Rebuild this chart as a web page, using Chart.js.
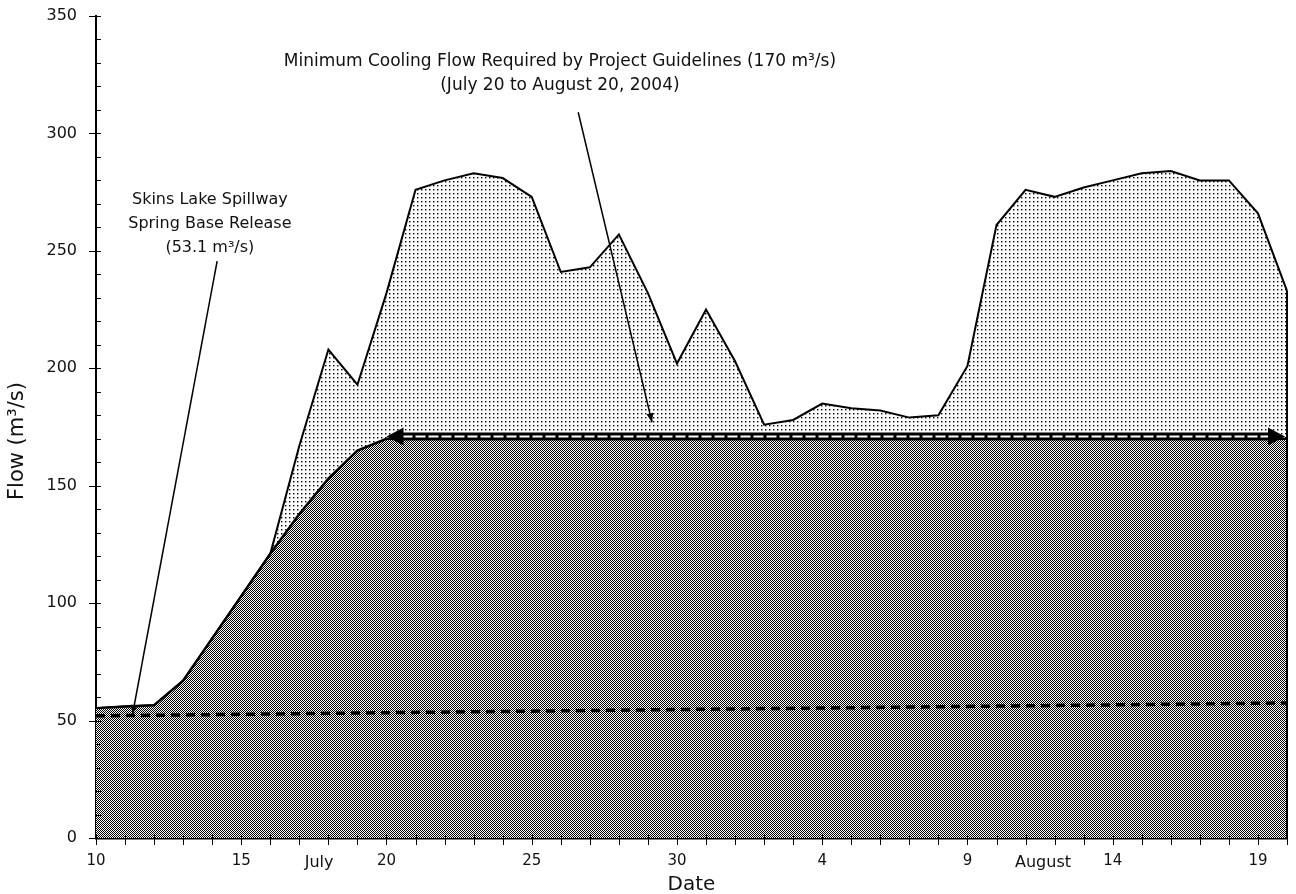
<!DOCTYPE html>
<html>
<head>
<meta charset="utf-8">
<script src="https://cdn.jsdelivr.net/npm/chart.js@4.4.1/dist/chart.umd.min.js"></script>
<style>
html, body { margin: 0; padding: 0; background: #fff; }
</style>
</head>
<body>
<canvas id="flowChart" width="1296" height="894"></canvas>
<script>
// daily dates, July 10 to August 20, 2004
const dates = [
    'Jul 10', 'Jul 11', 'Jul 12', 'Jul 13', 'Jul 14', 'Jul 15', 'Jul 16', 'Jul 17', 'Jul 18', 'Jul 19',
    'Jul 20', 'Jul 21', 'Jul 22', 'Jul 23', 'Jul 24', 'Jul 25', 'Jul 26', 'Jul 27', 'Jul 28', 'Jul 29',
    'Jul 30', 'Jul 31', 'Aug 1', 'Aug 2', 'Aug 3', 'Aug 4', 'Aug 5', 'Aug 6', 'Aug 7', 'Aug 8',
    'Aug 9', 'Aug 10', 'Aug 11', 'Aug 12', 'Aug 13', 'Aug 14', 'Aug 15', 'Aug 16', 'Aug 17', 'Aug 18',
    'Aug 19', 'Aug 20'
];

// total flow (upper line, dotted area)
const totalFlow = [
    55.3, 56.0, 56.5, 67, 85, 103, 121, 167, 208, 193,
    232, 276, 280, 283, 281, 273, 241, 243, 257, 232,
    202, 225, 203, 176, 178, 185, 183, 182, 179, 180,
    201, 261, 276, 273, 277, 280, 283, 284, 280, 280,
    266, 233
];

// cooling flow release (lower line, dark area)
const releaseFlow = [
    55.3, 56.0, 56.5, 67, 85, 103, 121, 138, 153, 165,
    170, 170, 170, 170, 170, 170, 170, 170, 170, 170,
    170, 170, 170, 170, 170, 170, 170, 170, 170, 170,
    170, 170, 170, 170, 170, 170, 170, 170, 170, 170,
    170, 170
];

// Skins Lake spillway base release (dashed line)
const baseDates = ['Jul 10', 'Aug 20'];
const baseRelease = [52.0, 57.5];

// minimum cooling flow guideline arrow
const minFlowDates = ['Jul 20', 'Aug 20'];
const minFlowLevel = 171;

const yMax = 350;
const FONT = '"DejaVu Sans", sans-serif';
const INK = '#111';

const canvas = document.getElementById('flowChart');
const ctx = canvas.getContext('2d');

function makePattern(size, dots) {
    const c = document.createElement('canvas');
    c.width = size; c.height = size;
    const g = c.getContext('2d');
    g.fillStyle = '#fff';
    g.fillRect(0, 0, size, size);
    dots.forEach(d => { g.fillStyle = d[2]; g.fillRect(d[0], d[1], 1, 1); });
    return ctx.createPattern(c, 'repeat');
}
const checker = makePattern(2, [[0, 0, '#000'], [1, 1, '#000']]);
const dotted = makePattern(4, [[1, 1, '#000'], [2, 1, '#999'], [1, 2, '#999'], [2, 2, '#ccc']]);

function arrowHead(c, x1, y1, x2, y2, len, half) {
    const a = Math.atan2(y2 - y1, x2 - x1);
    const bx = x2 - len * Math.cos(a), by = y2 - len * Math.sin(a);
    c.beginPath();
    c.moveTo(x2, y2);
    c.lineTo(bx + half * Math.sin(a), by - half * Math.cos(a));
    c.lineTo(bx - half * Math.sin(a), by + half * Math.cos(a));
    c.closePath();
    c.fill();
}

// notes placed in data units (day index, flow)
const notes = [
    { lines: ['Minimum Cooling Flow Required by Project Guidelines (170 m\u00b3/s)', '(July 20 to August 20, 2004)'],
      size: 17, at: [15.97, 330.4], from: [16.6, 309], to: [19.14, 177] },
    { lines: ['Skins Lake Spillway', 'Spring Base Release', '(53.1 m\u00b3/s)'],
      size: 16, at: [3.92, 271.6], from: [4.17, 245.6], to: [1.26, 52.8] }
];

const decorations = {
    id: 'decorations',
    afterDatasetsDraw(chart) {
        const c = chart.ctx, x = chart.scales.x, y = chart.scales.y;
        c.save();
        // right edge of the filled area
        const last = dates.length - 1;
        c.strokeStyle = '#000';
        c.lineWidth = 2;
        c.beginPath();
        c.moveTo(x.getPixelForValue(last), y.getPixelForValue(totalFlow[last]));
        c.lineTo(x.getPixelForValue(last), y.getPixelForValue(0));
        c.stroke();

        // guideline double arrow
        const xa = x.getPixelForValue(dates.indexOf(minFlowDates[0]));
        const xb = x.getPixelForValue(dates.indexOf(minFlowDates[1])) - 2;
        const ya = y.getPixelForValue(minFlowLevel);
        c.lineWidth = 8;
        c.beginPath(); c.moveTo(xa + 12, ya); c.lineTo(xb - 12, ya); c.stroke();
        c.strokeStyle = '#fff';
        c.lineWidth = 2;
        c.setLineDash([10, 3]);
        c.beginPath(); c.moveTo(xa + 16, ya); c.lineTo(xb - 16, ya); c.stroke();
        c.setLineDash([]);
        c.fillStyle = '#000';
        arrowHead(c, xb, ya, xa, ya, 17, 9);
        arrowHead(c, xa, ya, xb, ya, 17, 9);

        // callouts
        c.strokeStyle = '#000';
        c.lineWidth = 1.5;
        notes.forEach(n => {
            const x1 = x.getPixelForValue(n.from[0]), y1 = y.getPixelForValue(n.from[1]);
            const x2 = x.getPixelForValue(n.to[0]), y2 = y.getPixelForValue(n.to[1]);
            c.beginPath(); c.moveTo(x1, y1); c.lineTo(x2, y2); c.stroke();
            arrowHead(c, x1, y1, x2, y2, 9, 3.5);
        });
        c.restore();
    },
    afterDraw(chart) {
        const c = chart.ctx, x = chart.scales.x, y = chart.scales.y;
        const area = chart.chartArea;
        c.save();
        c.strokeStyle = '#000';
        c.lineWidth = 1;
        // y ticks: major every 50, minor every 10
        for (let v = 0; v <= yMax; v += 10) {
            const py = Math.round(y.getPixelForValue(v)) + 0.5;
            c.beginPath();
            if (v % 50 === 0) { c.moveTo(area.left - 7, py); c.lineTo(area.left + 5, py); }
            else { c.moveTo(area.left, py); c.lineTo(area.left + 5, py); }
            c.stroke();
        }
        // x ticks, one per day
        for (let i = 0; i < dates.length; i++) {
            const pxl = Math.round(x.getPixelForValue(i)) + 0.5;
            c.beginPath(); c.moveTo(pxl, area.bottom - 3); c.lineTo(pxl, area.bottom + 7); c.stroke();
        }
        // texts
        c.fillStyle = INK;
        c.textAlign = 'center';
        c.textBaseline = 'middle';
        notes.forEach(n => {
            c.font = n.size + 'px ' + FONT;
            const tx = x.getPixelForValue(n.at[0]), ty = y.getPixelForValue(n.at[1]);
            n.lines.forEach((t, k) => c.fillText(t, tx, ty + k * 24));
        });
        c.font = '16px ' + FONT;
        c.fillText('July', x.getPixelForValue(7.68), area.bottom + 25);
        c.fillText('August', x.getPixelForValue(32.6), area.bottom + 25);
        c.font = '20px ' + FONT;
        c.fillText('Date', (area.left + area.right) / 2, area.bottom + 47);
        c.translate(18, y.getPixelForValue(169));
        c.rotate(-Math.PI / 2);
        c.font = '21px ' + FONT;
        c.fillText('Flow (m\u00b3/s)', 0, 0);
        c.restore();
    }
};

new Chart(ctx, {
    type: 'line',
    data: {
        labels: dates,
        datasets: [
            {
                label: 'Total flow',
                data: totalFlow,
                borderColor: '#000',
                borderWidth: 2,
                backgroundColor: dotted,
                fill: 1,
                pointRadius: 0,
                tension: 0,
                order: 2
            },
            {
                label: 'Cooling release',
                data: releaseFlow,
                borderColor: '#000',
                borderWidth: 2.5,
                backgroundColor: checker,
                fill: 'origin',
                pointRadius: 0,
                tension: 0,
                order: 1
            },
            {
                label: 'Spring base release',
                data: baseDates.map((d, i) => ({ x: d, y: baseRelease[i] })),
                borderColor: '#000',
                borderWidth: 3.5,
                borderDash: [9, 6],
                fill: false,
                pointRadius: 0,
                order: 0
            }
        ]
    },
    options: {
        responsive: false,
        animation: false,
        devicePixelRatio: 1,
        layout: { padding: { top: 16, right: 9, left: 0, bottom: 0 } },
        plugins: {
            legend: { display: false },
            tooltip: { enabled: false }
        },
        scales: {
            x: {
                type: 'category',
                offset: false,
                grid: { display: false },
                border: { display: true, color: '#000', width: 2.5 },
                ticks: {
                    autoSkip: false,
                    maxRotation: 0,
                    padding: 6,
                    color: INK,
                    font: { family: FONT, size: 15 },
                    callback: (v, i) => (i % 5 === 0 && i < dates.length - 1) ? dates[i].split(' ')[1] : ''
                },
                afterFit: s => { s.height = 56; s.paddingLeft = 0; s.paddingRight = 0; }
            },
            y: {
                min: 0,
                max: yMax,
                grid: { display: false },
                border: { display: true, color: '#000', width: 2 },
                ticks: {
                    stepSize: 50,
                    padding: 11,
                    color: INK,
                    font: { family: FONT, size: 16 }
                },
                afterFit: s => { s.width = 96; s.paddingTop = 0; s.paddingBottom = 0; }
            }
        }
    },
    plugins: [decorations]
});
</script>
</body>
</html>
